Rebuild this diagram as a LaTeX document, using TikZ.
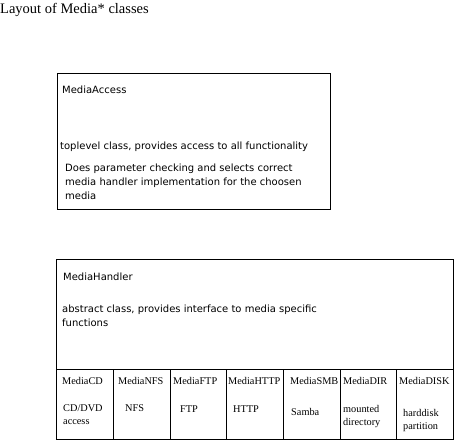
\documentclass[tikz,border=0pt]{standalone}
\usepackage{fontspec}
\setmainfont{Liberation Serif}
\newfontfamily\descfont{DejaVu Sans}
\usetikzlibrary{positioning}
\tikzset{
	classbox/.style={
		draw=black,
		line width=0.9pt
	},
	boxtext/.style={
		anchor=base west,
		inner sep=0,
		align=left,
		font=\descfont\fontsize{10}{14}\selectfont
	},
	celltext/.style={
		anchor=base west,
		inner sep=0,
		align=left,
		font=\fontsize{10.3}{13}\selectfont
	}
}
\begin{document}
\begin{tikzpicture}[x=1pt,y=-1pt]
	\useasboundingbox (0,0) rectangle (454,440);

	% Title (base of a multi-line node is its last line)
	\node[anchor=base west, inner sep=0, font=\fontsize{14.5}{16}\selectfont] (title) at (0,13) {Layout of Media* classes};

	%% MediaAccess
	\draw[classbox] (57,73) rectangle (330,209);
	\node[boxtext] (access) at (62,93) {MediaAccess};
	\node[boxtext] (accessdesc) at (60,149) {toplevel class, provides access to all functionality};
	\node[boxtext] (accesscheck) at (65,199) {Does parameter checking and selects correct\\media handler implementation for the choosen\\media};

	%% MediaHandler
	\draw[classbox] (56,259) rectangle (453,439);
	\draw[classbox] (56,369) -- (453,369);
	\foreach \x in {113,170,226,283,340,396} {
		\draw[classbox] (\x,369) -- (\x,439);
	}
	\node[boxtext] (handler) at (63,280) {MediaHandler};
	\node[boxtext] (handlerdesc) at (62,326) {abstract class, provides interface to media specific\\functions};

	% Column cells
	\node[celltext] (cd) at (62,384) {MediaCD};
	\node[celltext] (cddesc) at (63,424) {CD/DVD\\access};
	\node[celltext] (nfs) at (118,384) {MediaNFS};
	\node[celltext] (nfsdesc) at (125,411) {NFS};
	\node[celltext] (ftp) at (173,384) {MediaFTP};
	\node[celltext] (ftpdesc) at (180,412) {FTP};
	\node[celltext] (http) at (228,384) {MediaHTTP};
	\node[celltext] (httpdesc) at (233,412) {HTTP};
	\node[celltext] (smb) at (290,384) {MediaSMB};
	\node[celltext] (smbdesc) at (291,415) {Samba};
	\node[celltext] (dir) at (343,384) {MediaDIR};
	\node[celltext] (dirdesc) at (343,425) {mounted\\directory};
	\node[celltext] (disk) at (399,384) {MediaDISK};
	\node[celltext] (diskdesc) at (403,429) {harddisk\\partition};
\end{tikzpicture}
\end{document}
